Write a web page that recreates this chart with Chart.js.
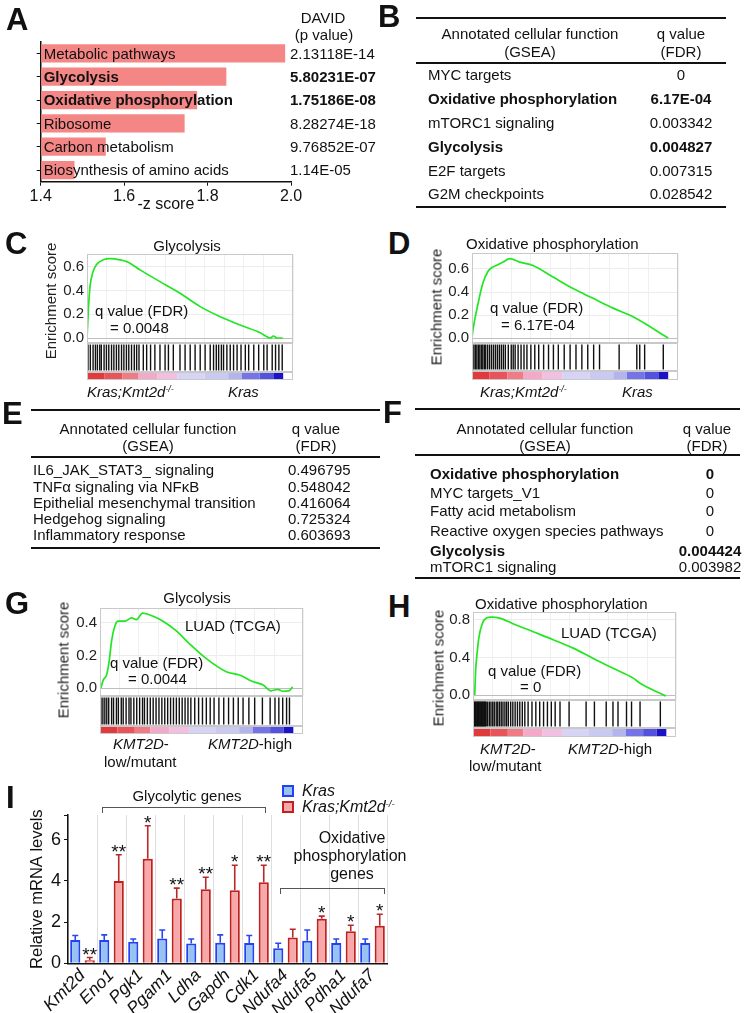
<!DOCTYPE html>
<html>
<head>
<meta charset="utf-8">
<title>Kmt2d loss and metabolic gene sets</title>
<script src="https://cdn.jsdelivr.net/npm/chart.js@4.4.1/dist/chart.umd.min.js"></script>
<style>
  body { margin: 0; background: #fff; }
  #page { position: relative; width: 746px; height: 1013px; overflow: hidden; font-family: "Liberation Sans", Arial, sans-serif; color: #111; }
  #page canvas { position: absolute; }
  .t { position: absolute; white-space: nowrap; line-height: 1; }
  .rule { position: absolute; background: #111; }
  .br { position: absolute; border: 1px solid #555; border-bottom: none; }
  .sw { position: absolute; box-sizing: border-box; border: 2px solid; }
  sup { font-size: 60%; vertical-align: 0.5em; line-height: 0; }
</style>
</head>
<body>
<div id="page"></div>
<script>
// ---- panel A: DAVID pathways ----
const pathways = ["Metabolic pathways", "Glycolysis", "Oxidative phosphorylation", "Ribosome", "Carbon metabolism", "Biosynthesis of amino acids"];
const zScores = [1.986, 1.845, 1.775, 1.745, 1.556, 1.481];
const pValues = ["2.13118E-14", "5.80231E-07", "1.75186E-08", "8.28274E-18", "9.76852E-07", "1.14E-05"];
const boldPathways = [false, true, true, false, false, false];

// ---- tables B, E, F ----
const bFunctions = ["MYC targets", "Oxidative phosphorylation", "mTORC1 signaling", "Glycolysis", "E2F targets", "G2M checkpoints"];
const bQValues = ["0", "6.17E-04", "0.003342", "0.004827", "0.007315", "0.028542"];
const bBold = [false, true, false, true, false, false];
const eFunctions = ["IL6_JAK_STAT3_ signaling", "TNF\u03b1 signaling via NF\u03baB", "Epithelial mesenchymal transition", "Hedgehog signaling", "Inflammatory response"];
const eQValues = ["0.496795", "0.548042", "0.416064", "0.725324", "0.603693"];
const eBold = [false, false, false, false, false];
const fFunctions = ["Oxidative phosphorylation", "MYC targets_V1", "Fatty acid metabolism", "Reactive oxygen species pathways", "Glycolysis", "mTORC1 signaling"];
const fQValues = ["0", "0", "0", "0", "0.004424", "0.003982"];
const fBold = [true, false, false, false, true, false];

// ---- GSEA running enrichment scores (rank %, ES) and hit ranks ----
const cRank = [0, 0.7, 1.5, 2.9, 4.9, 8.3, 11.7, 16.8, 21, 27, 37.2, 47.4, 57.7, 67.9, 78, 88.3, 93.4, 95, 96.8, 99.8];
const cES = [0, 0.24, 0.43, 0.55, 0.62, 0.66, 0.67, 0.66, 0.64, 0.575, 0.476, 0.378, 0.265, 0.18, 0.11, 0.045, 0.0, 0.017, 0.0, 0.0];
const cHits = [0.5, 1.7, 3.1, 4.3, 5.3, 6.5, 7.3, 8.7, 9.9, 11.1, 12.5, 13.7, 15, 16.2, 17.6, 18.8, 20.1, 21.3, 22.7, 24.1, 25.3, 26.5,
  28.7, 30.4, 32.4, 34.6, 37.2, 39.8, 41.5, 44, 47.4, 50, 52.6, 55.1, 57.7, 60.2, 62.8,
  64.5, 65.9, 67.1, 68.5, 69.6, 71.3, 73, 74.7, 76.5, 78.5, 80.7, 82.4, 85, 87.5, 90.1, 91.8, 94.4, 96.1, 97.8, 99.5];

const dRank = [0, 0.5, 3.1, 5.6, 8.2, 9.9, 12.4, 15.8, 19.2, 24.3, 31.1, 41.3, 51.5, 61.7, 71.9, 82.1, 90.6, 97.4, 100];
const dES = [0, 0.07, 0.30, 0.48, 0.58, 0.61, 0.63, 0.66, 0.69, 0.66, 0.63, 0.53, 0.43, 0.345, 0.26, 0.185, 0.10, 0.026, 0];
const dHits = [0.3, 1, 1.8, 2.5, 3.3, 4, 4.8, 5.5, 6.3, 7, 8, 9, 10, 11, 12, 13, 14, 15, 16, 17, 18.5, 20, 21, 22, 23.5, 25, 26.5, 28,
  30, 32, 34, 36.5, 39, 41.5, 44, 47, 50, 53, 56, 59, 62, 65, 75, 84, 85.5, 88, 97.5];

const gRank = [0.5, 1.7, 3.4, 4.8, 6, 7.7, 9.4, 12.9, 16.3, 18.9, 22, 27.5, 32.6, 39.5, 46.4, 55, 65.3, 72.2, 79, 84.2, 88.5, 91.9, 94.5, 97.9, 99.6];
const gES = [0, 0.05, 0.08, 0.17, 0.29, 0.38, 0.41, 0.41, 0.43, 0.42, 0.46, 0.44, 0.41, 0.35, 0.27, 0.18, 0.10, 0.08, 0.04, 0.02, -0.017, -0.008, -0.02, -0.017, 0.008];
const gHits = [0.5, 1.5, 2.5, 3.5, 4.5, 6, 7, 8.5, 9.5, 11, 12, 13.5, 15, 16, 17.5, 19, 20.5, 22, 23, 24.5, 26, 27.5, 29, 30.5, 32, 33.5,
  35, 36.5, 38, 39.5, 41, 42.5, 44, 45.5, 47, 49, 51, 53, 55, 57, 59, 61.5, 64, 66.5, 69, 71.5, 74, 77, 80, 84, 88, 90.5, 92.5, 94.5, 96.5, 98];

const hRank = [0.9, 1.4, 2.1, 3.1, 4.8, 6.9, 9.5, 13.8, 20.7, 31.1, 41.5, 51.8, 62.2, 72.5, 82.9, 86.4, 91.5, 96.7, 99.8];
const hES = [0, 0.27, 0.44, 0.62, 0.76, 0.82, 0.83, 0.82, 0.76, 0.675, 0.59, 0.50, 0.39, 0.285, 0.18, 0.125, 0.07, 0.018, -0.01];
const hHits = [0, 0.4, 0.8, 1.2, 1.6, 2, 2.4, 2.8, 3.2, 3.6, 4, 4.4, 4.8, 5.2, 5.6, 6, 6.4, 6.8,
  7.6, 8.5, 9.3, 10.2, 11, 12, 12.8, 13.7, 14.6, 15.5, 16.5, 17.4, 18.3, 19.5, 20.6, 21.8, 23, 24.2, 25.5, 26.8,
  28.5, 30.5, 32.5, 34.5, 36.5, 38.5, 40.5, 42.5, 45, 49.7, 58.5, 62.8, 68.9, 72.4, 75, 79.4, 82, 86.4, 96.9];

// ranked-list metric colour blocks (start rank %, colour)
const stripStarts = [0, 9, 18, 26, 36, 46, 60, 72, 79, 88, 95];
const stripColors = ["#e23a3c", "#e9545a", "#ef7c84", "#f4a9c9", "#f3bfe0", "#d6d3f4", "#c9c9f2", "#b3b3ee", "#7474e6", "#5252dc", "#1c12c6"];

// ---- panel I: qPCR ----
const genes = ["Kmt2d", "Eno1", "Pgk1", "Pgam1", "Ldha", "Gapdh", "Cdk1", "Ndufa4", "Ndufa5", "Pdha1", "Ndufa7"];
const krasMean = [1.13, 1.13, 1.05, 1.2, 0.96, 1.0, 0.99, 0.73, 1.1, 0.99, 0.99];
const krasErr = [1.35, 1.38, 1.18, 1.62, 1.18, 1.38, 1.35, 0.97, 1.62, 1.18, 1.18];
const kmtMean = [0.15, 4.0, 5.07, 3.14, 3.6, 3.55, 3.94, 1.25, 2.16, 1.56, 1.82];
const kmtErr = [0.28, 5.27, 6.68, 3.65, 4.18, 4.76, 4.76, 1.65, 2.29, 1.85, 2.38];
const stars = ["**", "**", "*", "**", "**", "*", "**", "", "*", "*", "*"];

const FONT = '"Liberation Sans", Arial, sans-serif';
Chart.defaults.font.family = FONT;
Chart.defaults.color = "#111";
const page = document.getElementById("page");

function txt(x, y, html, o = {}) {
  const d = document.createElement("div");
  d.className = "t";
  d.innerHTML = html;
  d.style.left = x + "px";
  d.style.top = y + "px";
  d.style.fontSize = (o.size || 15) + "px";
  if (o.bold) d.style.fontWeight = "bold";
  if (o.color) d.style.color = o.color;
  const tx = o.align === "center" || o.rot ? "-50%" : o.align === "right" ? "-100%" : "0";
  d.style.transform = `translate(${tx},-50%)` + (o.rot ? " rotate(-90deg)" : "");
  page.appendChild(d);
}

function rule(x, y, w, h) {
  const d = document.createElement("div");
  d.className = "rule";
  Object.assign(d.style, { left: x + "px", top: y + "px", width: w + "px", height: h + "px" });
  page.appendChild(d);
}

function canvasAt(left, top, w, h) {
  const c = document.createElement("canvas");
  c.width = w; c.height = h;
  Object.assign(c.style, { left: left + "px", top: top + "px", width: w + "px", height: h + "px" });
  page.appendChild(c);
  return c;
}

// drop the label overhang Chart.js reserves, so the plot box lands where it is asked to
function noPad(s) { s.paddingTop = 0; s.paddingBottom = 0; s.paddingLeft = 0; s.paddingRight = 0; }

function letter(x, y, s) { txt(x, y, s, { size: 31, bold: true }); }

function table(t) {
  const w = t.x1 - t.x0;
  rule(t.x0, t.rules[0], w, 1.8);
  rule(t.x0, t.rules[1], w, 1.6);
  rule(t.x0, t.rules[2], w, 2.2);
  txt(t.headX, t.headY[0], "Annotated cellular function", { align: "center" });
  txt(t.headX, t.headY[1], "(GSEA)", { align: "center" });
  txt(t.qX, t.headY[0], "q value", { align: "center" });
  txt(t.qX, t.headY[1], "(FDR)", { align: "center" });
  t.names.forEach((n, i) => {
    txt(t.nameX, t.rowY[i], n, { bold: t.bold[i] });
    txt(t.valX, t.rowY[i], t.vals[i], { bold: t.bold[i], align: t.valAlign });
  });
}

// ---------- A ----------
const aLabels = {
  id: "aLabels",
  afterDatasetsDraw(chart) {
    const { ctx, chartArea } = chart;
    ctx.save();
    ctx.textBaseline = "middle";
    ctx.fillStyle = "#111";
    chart.getDatasetMeta(0).data.forEach((bar, i) => {
      ctx.font = (boldPathways[i] ? "bold " : "") + "15px " + FONT;
      ctx.fillText(pathways[i], chartArea.left + 3, bar.y + 1);
      ctx.fillText(pValues[i], chartArea.right - 1, bar.y + 1);
    });
    ctx.restore();
  }
};

new Chart(canvasAt(0, 0, 380, 214), {
  type: "bar",
  data: {
    labels: pathways,
    datasets: [{ data: zScores, base: 1.4, backgroundColor: "#f48686", borderWidth: 0, barPercentage: 0.78, categoryPercentage: 1 }]
  },
  options: {
    indexAxis: "y",
    responsive: false,
    animation: false,
    layout: { padding: { top: 41.7, right: 89, left: 0, bottom: 0 } },
    plugins: { legend: { display: false }, tooltip: { enabled: false } },
    scales: {
      y: {
        ticks: { display: false },
        grid: { drawOnChartArea: false, offset: false, tickLength: 4, tickColor: "#111" },
        border: { color: "#111", width: 1.5 },
        afterFit: s => { s.width = 40.7; noPad(s); }
      },
      x: {
        type: "linear", min: 1.4, max: 2.0,
        ticks: { stepSize: 0.2, padding: 1, font: { size: 16 }, callback: v => v.toFixed(1) },
        grid: { drawOnChartArea: false, tickLength: 4, tickColor: "#111" },
        border: { color: "#111", width: 1.5 },
        title: { display: true, text: "-z score", font: { size: 16 }, padding: 0 },
        afterFit: s => { s.height = 32.3; noPad(s); }
      }
    }
  },
  plugins: [aLabels]
});
letter(6, 19, "A");
txt(323, 17, "DAVID", { align: "center" });
txt(324, 34, "(p value)", { align: "center" });

// ---------- B ----------
letter(378, 16, "B");
table({ x0: 416, x1: 726, rules: [17, 62, 206], headX: 530, qX: 681, headY: [33, 51],
  names: bFunctions, vals: bQValues, bold: bBold, nameX: 428, valX: 681, valAlign: "center",
  rowY: [74, 98, 122, 146, 170, 193] });

// ---------- GSEA panels ----------
const esFrame = {
  id: "esFrame",
  afterDatasetsDraw(chart) {
    const { ctx, chartArea: a } = chart;
    ctx.save();
    ctx.strokeStyle = "#c9c9c9";
    ctx.lineWidth = 1;
    ctx.strokeRect(a.left + 0.5, a.top + 0.5, a.width - 1, a.height - 1);
    ctx.restore();
  }
};

const hitStrip = {
  id: "hitStrip",
  afterDatasetsDraw(chart) {
    const { ctx, chartArea: a, scales: { x, y } } = chart;
    const top = y.getPixelForValue(0), bottom = y.getPixelForValue(y.min);
    ctx.save();
    stripStarts.forEach((s, i) => {
      const e = i + 1 < stripStarts.length ? stripStarts[i + 1] : 100;
      const x0 = x.getPixelForValue(s), x1 = x.getPixelForValue(e);
      ctx.fillStyle = stripColors[i];
      ctx.fillRect(x0, top + 1, x1 - x0, bottom - top - 1);
    });
    ctx.strokeStyle = "#c9c9c9";
    ctx.lineWidth = 1;
    ctx.strokeRect(a.left + 0.5, a.top + 0.5, a.width - 1, top - a.top - 1);
    ctx.strokeRect(a.left + 0.5, top + 0.5, a.width - 1, bottom - top - 1);
    ctx.restore();
  }
};

function onStep(v, step) { return Math.abs(v / step - Math.round(v / step)) < 1e-6; }

function gsea(g, rank, es, hits) {
  const right = g.left + g.width - g.plotR;
  // running enrichment score
  new Chart(canvasAt(g.left, g.esTop - 10, g.width, g.esBottom - g.esTop + 18), {
    type: "line",
    data: { datasets: [{ data: rank.map((r, i) => ({ x: r, y: es[i] })), borderColor: "#22e622", borderWidth: 1.7,
      pointRadius: 0, cubicInterpolationMode: "monotone" }] },
    options: {
      responsive: false,
      animation: false,
      layout: { autoPadding: false, padding: { left: g.plotL - g.left - 40, top: 10, right, bottom: 8 } },
      plugins: { legend: { display: false }, tooltip: { enabled: false } },
      scales: {
        x: {
          type: "linear", min: 0, max: 105,
          ticks: { display: false, stepSize: 10 },
          grid: { color: "#f0f0f0", drawTicks: false },
          border: { display: false },
          afterFit: s => { s.height = 0; noPad(s); }
        },
        y: {
          min: g.min, max: g.max,
          ticks: { stepSize: g.step, includeBounds: false, autoSkip: false, padding: 3, font: { size: 15 }, color: "#222",
            callback: v => onStep(v, g.step) ? v.toFixed(1) : "" },
          grid: { drawTicks: false, color: c => (c.tick && Math.abs(c.tick.value) < 1e-9) ? "#bdbdbd" : "#ececec" },
          border: { display: false },
          afterFit: s => { s.width = 40; noPad(s); }
        }
      }
    },
    plugins: [esFrame]
  });
  // gene-set hits along the ranked list, with the rank-metric strip below
  const hitH = g.stripTop - g.esBottom, stripH = g.stripBottom - g.stripTop;
  new Chart(canvasAt(g.left, g.esBottom, g.width, g.stripBottom - g.esBottom + 1), {
    type: "scatter",
    data: { datasets: [{ data: hits.map(r => ({ x: r, y: 0.5 })), pointStyle: "line", pointRotation: 90,
      pointRadius: hitH / 2 - 1.5, pointBorderColor: "#101010", pointBorderWidth: 1.4 }] },
    options: {
      responsive: false,
      animation: false,
      layout: { autoPadding: false, padding: { left: g.plotL - g.left, top: 0, right, bottom: 1 } },
      plugins: { legend: { display: false }, tooltip: { enabled: false } },
      scales: {
        x: { type: "linear", min: 0, max: 105, display: false },
        y: { type: "linear", min: -stripH / hitH, max: 1, display: false }
      }
    },
    plugins: [hitStrip]
  });
  txt(g.titleX, g.titleY, "Enrichment score", { rot: true, color: "#222" });
}

// C
letter(5, 243, "C");
gsea({ left: 0, width: 300, plotL: 87, plotR: 293, esTop: 254, esBottom: 343, stripTop: 372, stripBottom: 380,
  titleX: 50, titleY: 301, min: -0.042, max: 0.709, step: 0.2 }, cRank, cES, cHits);
txt(187, 245, "Glycolysis", { align: "center" });
txt(95, 310, "q value (FDR)");
txt(110, 327, "= 0.0048");
txt(87, 391, "<i>Kras;Kmt2d<sup>-/-</sup></i>");
txt(228, 391, "<i>Kras</i>");

// D
letter(388, 243, "D");
gsea({ left: 373, width: 312, plotL: 472, plotR: 678, esTop: 253, esBottom: 343, stripTop: 371, stripBottom: 380,
  titleX: 436, titleY: 307, min: -0.043, max: 0.739, step: 0.2 }, dRank, dES, dHits);
txt(466, 243, "Oxidative phosphorylation");
txt(490, 307, "q value (FDR)");
txt(501, 324, "= 6.17E-04");
txt(480, 391, "<i>Kras;Kmt2d<sup>-/-</sup></i>");
txt(622, 391, "<i>Kras</i>");

// E
letter(2, 413, "E");
table({ x0: 31, x1: 380, rules: [409, 456, 547], headX: 148, qX: 316, headY: [428, 445],
  names: eFunctions, vals: eQValues, bold: eBold, nameX: 33, valX: 288, valAlign: "left",
  rowY: [469, 485.5, 502, 518, 534] });

// F
letter(383, 412, "F");
table({ x0: 415, x1: 740, rules: [408, 454, 577], headX: 545, qX: 707, headY: [428, 445],
  names: fFunctions, vals: fQValues, bold: fBold, nameX: 430, valX: 710, valAlign: "center",
  rowY: [473, 492, 510, 530, 550, 566] });

// G
letter(5, 603, "G");
gsea({ left: 0, width: 310, plotL: 100, plotR: 303, esTop: 608, esBottom: 696, stripTop: 726, stripBottom: 734,
  titleX: 63, titleY: 660, min: -0.049, max: 0.491, step: 0.2 }, gRank, gES, gHits);
txt(197, 597, "Glycolysis", { align: "center" });
txt(185, 625, "LUAD (TCGA)");
txt(110, 662, "q value (FDR)");
txt(128, 678, "= 0.0044");
txt(113, 743, "<i>KMT2D</i>-");
txt(104, 761, "low/mutant");
txt(208, 743, "<i>KMT2D</i>-high");

// H
letter(388, 606, "H");
gsea({ left: 373, width: 310, plotL: 473, plotR: 676, esTop: 612, esBottom: 700, stripTop: 728, stripBottom: 737,
  titleX: 438, titleY: 668, min: -0.053, max: 0.885, step: 0.4 }, hRank, hES, hHits);
txt(475, 603, "Oxidative phosphorylation");
txt(561, 632, "LUAD (TCGA)");
txt(488, 670, "q value (FDR)");
txt(520, 686, "= 0");
txt(480, 748, "<i>KMT2D</i>-");
txt(469, 765, "low/mutant");
txt(568, 748, "<i>KMT2D</i>-high");

// ---------- I ----------
const iMarks = {
  id: "iMarks",
  afterDatasetsDraw(chart) {
    const { ctx, scales: { y } } = chart;
    ctx.save();
    [[krasErr, "#2a46f0"], [kmtErr, "#b82a2a"]].forEach(([errs, col], d) => {
      chart.getDatasetMeta(d).data.forEach((bar, i) => {
        const top = y.getPixelForValue(errs[i]);
        ctx.strokeStyle = col;
        ctx.lineWidth = 1.6;
        ctx.beginPath();
        ctx.moveTo(bar.x, bar.y);
        ctx.lineTo(bar.x, top);
        ctx.moveTo(bar.x - 3, top);
        ctx.lineTo(bar.x + 3, top);
        ctx.stroke();
      });
    });
    ctx.fillStyle = "#111";
    ctx.font = "19px " + FONT;
    ctx.textAlign = "center";
    ctx.textBaseline = "alphabetic";
    chart.getDatasetMeta(1).data.forEach((bar, i) => {
      if (stars[i]) ctx.fillText(stars[i], bar.x, y.getPixelForValue(kmtErr[i]) + 3);
    });
    ctx.restore();
  }
};

new Chart(canvasAt(0, 780, 400, 233), {
  type: "bar",
  data: {
    labels: genes,
    datasets: [
      { label: "Kras", data: krasMean, backgroundColor: "#96c3f2", borderColor: "#2440f5", borderWidth: 2,
        barPercentage: 0.7, categoryPercentage: 1 },
      { label: "Kras;Kmt2d-/-", data: kmtMean, backgroundColor: "#f7a9a9", borderColor: "#c21f1f", borderWidth: 2,
        barPercentage: 0.7, categoryPercentage: 1 }
    ]
  },
  options: {
    responsive: false,
    animation: false,
    layout: { padding: { top: 35, right: 13, left: 28, bottom: 0 } },
    plugins: { legend: { display: false }, tooltip: { enabled: false } },
    scales: {
      x: {
        ticks: { autoSkip: false, maxRotation: 45, minRotation: 45, padding: 2, font: { size: 17.5, style: "italic" }, color: "#111" },
        grid: { color: "#dedede", drawTicks: false },
        border: { color: "#111", width: 1.5 },
        afterFit: s => { s.height = 49.7; noPad(s); }
      },
      y: {
        min: 0, max: 7.2,
        ticks: { stepSize: 2, padding: 3, font: { size: 18 }, color: "#111", callback: v => (v % 2 === 0 ? v : "") },
        grid: { drawOnChartArea: false, tickLength: 4, tickColor: "#111" },
        border: { color: "#111", width: 1.5 },
        title: { display: true, text: "Relative mRNA levels", font: { size: 16.5 }, padding: 0 },
        afterFit: s => { s.width = 40; noPad(s); }
      }
    }
  },
  plugins: [iMarks]
});
letter(6, 797, "I");

// brackets and group captions
function bracket(x, y, w) {
  const d = document.createElement("div");
  d.className = "br";
  Object.assign(d.style, { left: x + "px", top: y + "px", width: w + "px", height: "5px" });
  page.appendChild(d);
}
bracket(102, 807, 162);
txt(187, 795, "Glycolytic genes", { align: "center" });
bracket(280, 888, 103);
txt(352, 838, "Oxidative", { size: 16, align: "center" });
txt(350, 856, "phosphorylation", { size: 16, align: "center" });
txt(352, 874, "genes", { size: 16, align: "center" });

// legend for I
function swatch(x, y, fill, edge) {
  const d = document.createElement("div");
  d.className = "sw";
  Object.assign(d.style, { left: x + "px", top: y + "px", width: "12px", height: "12px", background: fill, borderColor: edge });
  page.appendChild(d);
}
swatch(282, 785, "#96c3f2", "#2440f5");
txt(302, 791, "<i>Kras</i>", { size: 16 });
swatch(282, 801, "#f7a9a9", "#c21f1f");
txt(302, 807, "<i>Kras;Kmt2d<sup>-/-</sup></i>", { size: 16 });
</script>
</body>
</html>
